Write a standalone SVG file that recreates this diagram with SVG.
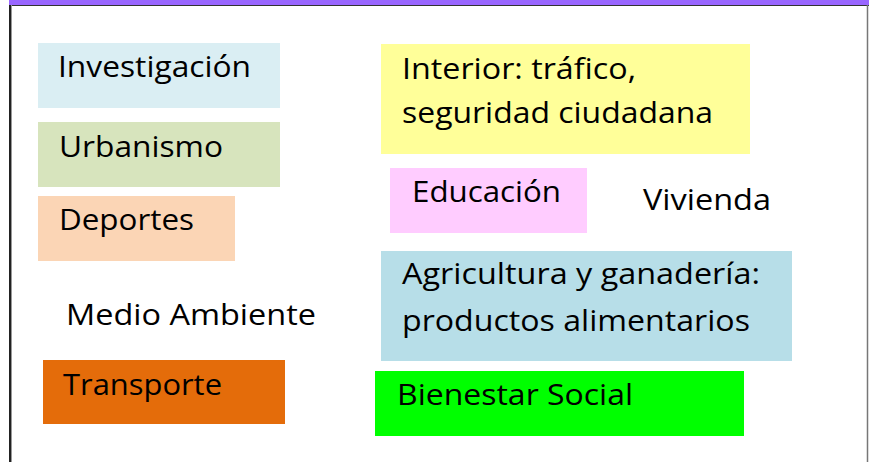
<svg xmlns="http://www.w3.org/2000/svg" width="869" height="462" viewBox="0 0 869 462">
<style>
.t{font-family:"Open Sans","Noto Sans","Liberation Sans",sans-serif;font-size:29px;fill:#000}
</style>
<rect x="0" y="0" width="869" height="462" fill="#fff"/>
<g id="frame">
<rect x="9" y="0" width="860" height="5" fill="#9966FF"/>
<line x1="9" y1="5.5" x2="869" y2="5.5" stroke="#333" stroke-width="1"/>
<line x1="10" y1="5" x2="10" y2="462" stroke="#222" stroke-width="2"/>
<line x1="11.5" y1="5" x2="11.5" y2="462" stroke="#999" stroke-width="1"/>
<line x1="867.5" y1="5" x2="867.5" y2="462" stroke="#777" stroke-width="1.5"/>
</g>
<g id="investigacion"><rect x="38" y="43" width="242" height="65" fill="#DAEEF3"/><text class="t" x="58" y="77" textLength="193" lengthAdjust="spacingAndGlyphs">Investigación</text></g>
<g id="urbanismo"><rect x="38" y="122" width="242" height="65" fill="#D7E4BD"/><text class="t" x="59" y="157" textLength="164" lengthAdjust="spacingAndGlyphs">Urbanismo</text></g>
<g id="deportes"><rect x="38" y="196" width="197" height="65" fill="#FBD5B5"/><text class="t" x="59" y="230" textLength="135" lengthAdjust="spacingAndGlyphs">Deportes</text></g>
<g id="medio-ambiente"><text class="t" x="66" y="325" textLength="250" lengthAdjust="spacingAndGlyphs">Medio Ambiente</text></g>
<g id="transporte"><rect x="43" y="360" width="242" height="64" fill="#E46C0A"/><text class="t" x="63" y="395" textLength="159" lengthAdjust="spacingAndGlyphs">Transporte</text></g>
<g id="interior"><rect x="381" y="44" width="369" height="110" fill="#FFFF99"/><text class="t" x="402" y="79" textLength="234" lengthAdjust="spacingAndGlyphs">Interior: tráfico,</text><text class="t" x="402" y="123" textLength="311" lengthAdjust="spacingAndGlyphs">seguridad ciudadana</text></g>
<g id="educacion"><rect x="390" y="168" width="197" height="65" fill="#FFCCFF"/><text class="t" x="412" y="202" textLength="149" lengthAdjust="spacingAndGlyphs">Educación</text></g>
<g id="vivienda"><text class="t" x="643" y="210" textLength="128" lengthAdjust="spacingAndGlyphs">Vivienda</text></g>
<g id="agricultura"><rect x="381" y="251" width="411" height="110" fill="#B7DEE8"/><text class="t" x="402" y="284" textLength="358" lengthAdjust="spacingAndGlyphs">Agricultura y ganadería:</text><text class="t" x="402" y="331" textLength="348" lengthAdjust="spacingAndGlyphs">productos alimentarios</text></g>
<g id="bienestar"><rect x="375" y="371" width="369" height="65" fill="#00FF00"/><text class="t" x="397" y="405" textLength="236" lengthAdjust="spacingAndGlyphs">Bienestar Social</text></g>
<g id="connectors"/>
</svg>
